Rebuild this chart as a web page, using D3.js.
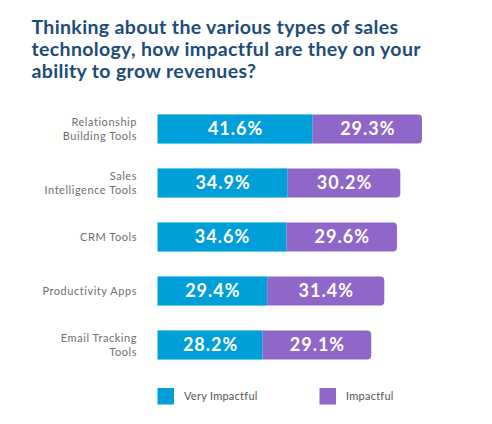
<!DOCTYPE html>
<html><head><meta charset="utf-8">
<script src="https://cdn.jsdelivr.net/npm/d3@7"></script>
<style>html,body{margin:0;padding:0;background:#fff;}svg{display:block;}</style>
</head><body>
<script>
const titleLines = ["Thinking about the various types of sales","technology, how impactful are they on your","ability to grow revenues?"];
const categories = [["Relationship","Building Tools"],["Sales","Intelligence Tools"],["CRM Tools"],["Productivity Apps"],["Email Tracking","Tools"]];
const veryImpactful = [41.6, 34.9, 34.6, 29.4, 28.2];
const impactful = [29.3, 30.2, 29.6, 31.4, 29.1];
const seriesNames = ["Very Impactful","Impactful"];
const colors = ["#009fda","#8e67c8"];

const W=492,H=424;
const svg=d3.select("body").append("svg").attr("width",W).attr("height",H);

svg.append("g").selectAll("text").data(titleLines).join("text")
  .attr("x",31.5).attr("y",(d,i)=>34+i*22.2)
  .attr("font-family","Lato").attr("font-weight",700).attr("font-size",19.5)
  .attr("letter-spacing",0.35)
  .attr("fill","#1c4c77").text(d=>d);

const keys = categories.map((c,i)=>i);
const y=d3.scaleBand().domain(keys).range([102,372]).paddingInner(0.46).paddingOuter(0.23);
const x=d3.scaleLinear().domain([0,100]).range([157.5,157.5+373]);
const bw=y.bandwidth();
const r=4;

const g=svg.append("g");
keys.forEach(i=>{
  const y0=y(i), x0=x(0), x1=x(veryImpactful[i]), x2=x(veryImpactful[i]+impactful[i]);
  g.append("rect").attr("x",x0).attr("y",y0).attr("width",x1-x0).attr("height",bw).attr("fill",colors[0]);
  const p=d3.path();
  p.moveTo(x1,y0); p.lineTo(x2-r,y0); p.arcTo(x2,y0,x2,y0+r,r); p.lineTo(x2,y0+bw-r);
  p.arcTo(x2,y0+bw,x2-r,y0+bw,r); p.lineTo(x1,y0+bw); p.closePath();
  g.append("path").attr("d",p.toString()).attr("fill",colors[1]);
  const cy=y0+bw/2;
  [[x0,x1,veryImpactful[i]],[x1,x2,impactful[i]]].forEach(([a,b,v])=>{
    g.append("text").attr("x",(a+b)/2+0.5).attr("y",cy).attr("dy","0.36em")
      .attr("text-anchor","middle").attr("font-family","Lato").attr("font-weight",700)
      .attr("font-size",18).attr("letter-spacing",1).attr("fill","#fff").text(v.toFixed(1)+"%");
  });
  const lines=categories[i];
  lines.forEach((l,j)=>{
    g.append("text").attr("x",137).attr("y",cy+(j-(lines.length-1)/2)*13.4).attr("dy","0.35em")
      .attr("text-anchor","end").attr("font-family","Lato").attr("font-size",11)
      .attr("letter-spacing",0.55).attr("fill","#6e6e6e").text(l);
  });
});

const leg=svg.append("g");
const legX=[157.5,319.5];
seriesNames.forEach((s,i)=>{
  leg.append("rect").attr("x",legX[i]).attr("y",388).attr("width",16.5).attr("height",16.5).attr("fill",colors[i]);
  leg.append("text").attr("x",legX[i]+26.5).attr("y",396.5).attr("dy","0.35em")
    .attr("font-family","Lato").attr("font-size",11).attr("letter-spacing",0.25).attr("fill","#555").text(s);
});
</script>
</body></html>
